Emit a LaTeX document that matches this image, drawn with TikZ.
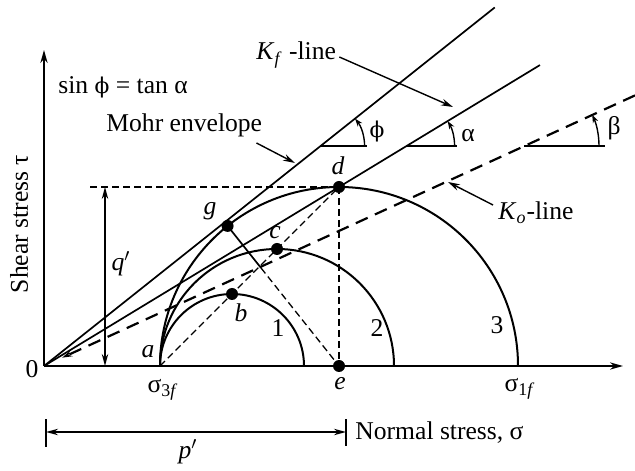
\documentclass[tikz,border=0pt]{standalone}
\usepackage{fontspec}
\setmainfont{Liberation Serif}
\newfontfamily\phifont{DejaVu Serif}[Scale=0.85]
\usetikzlibrary{arrows.meta,calc}
\begin{document}
\begin{tikzpicture}[x=0.5pt,y=0.5pt,
  font=\fontsize{12.8}{15}\selectfont,
  axis/.style={line width=1pt,-{Stealth[length=6.5pt,width=3.6pt]}},
  curve/.style={line width=1pt},
  envl/.style={line width=0.85pt},
  thindash/.style={line width=0.65pt,dash pattern=on 3.5pt off 2pt},
  kodash/.style={line width=1.1pt,dash pattern=on 6.5pt off 4pt},
  pointer/.style={line width=0.7pt,-{Stealth[length=6pt,width=3.4pt]}},
  dim/.style={line width=0.7pt,{Stealth[length=6pt,width=3.2pt]}-{Stealth[length=6pt,width=3.2pt]}},
  anglearrow/.style={line width=0.7pt,-{Stealth[length=4pt,width=2.8pt]}},
  dot/.style={circle,fill,inner sep=0pt,minimum size=6pt},
  lbl/.style={inner sep=1pt}]
\useasboundingbox (0,0) rectangle (635,470);

% key points
\coordinate (O) at (44,104);
\coordinate (X) at (623,104);
\coordinate (Y) at (44,420);
\coordinate (a) at (160,104);
\coordinate (b) at (232,176);
\coordinate (c) at (277,221);
\coordinate (d) at (339,283);
\coordinate (e) at (339,104);
\coordinate (g) at ($(e)+(128.5:179)$);
\coordinate (mohrEnd) at ($(O)+(38.5:576)$);
\coordinate (kfEnd) at ($(O)!1.681!(d)$);
\coordinate (koEnd) at ($(O)+(24.6:650)$);
\coordinate (koTip) at ($(O)+(24.6:20)$);

% axes
\draw[axis] (O) -- (X);
\draw[axis] (O) -- (Y);

% Mohr circles
\draw[curve] (a) arc[start angle=180,end angle=0,radius=72];
\draw[curve] (a) arc[start angle=180,end angle=0,radius=117];
\draw[curve] (a) arc[start angle=180,end angle=0,radius=179];

% lines from origin
\draw[envl] (O) -- (mohrEnd);
\draw[envl] (O) -- (kfEnd);
\draw[kodash,-{Stealth[length=5pt,width=3pt]}] (koEnd) -- (koTip);

% stress path and construction lines
\draw[thindash] (a) -- (d);
\draw[thindash] (d) -- (e);
\coordinate (gmid) at ($(g)!0.3!(e)$);
\draw[envl] (g) -- (gmid);
\draw[thindash] (gmid) -- (e);
\coordinate (hstart) at (90,283);
\draw[thindash] (hstart) -- (d);

% q' dimension
\coordinate (qtop) at (105,283);
\coordinate (qbot) at (105,104);
\draw[dim] (qtop) -- (qbot);
\node[lbl] (qlbl) at (121,206) {\textit{q}$'$};

% p' dimension
\coordinate (pl) at (46,38);
\coordinate (pr) at (346,38);
\coordinate (plt) at (46,51);
\coordinate (plb) at (46,23);
\coordinate (prt) at (346,51);
\coordinate (prb) at (346,24);
\draw[line width=0.7pt] (plt) -- (plb);
\draw[line width=0.7pt] (prt) -- (prb);
\draw[dim] (pl) -- (pr);
\node[lbl] (plbl) at (188,18) {\textit{p}$'$};
\node[lbl,anchor=west] (nlbl) at (353,37) {Normal stress, σ};

% dots
\node[dot] (bd) at (b) {};
\node[dot] (cd) at (c) {};
\node[dot] (dd) at (d) {};
\node[dot] (ed) at (e) {};
\node[dot] (gd) at (g) {};

% point labels
\node[lbl] (la) at (148,118) {\textit{a}};
\node[lbl] (lb) at (241,157) {\textit{b}};
\node[lbl] (lc) at (275,237) {\textit{c}};
\node[lbl] (ld) at (338,304) {\textit{d}};
\node[lbl] (le) at (340,86) {\textit{e}};
\node[lbl] (lg) at (210,259) {\textit{g}};
\node[lbl] (l1) at (278,142) {1};
\node[lbl] (l2) at (377,142) {2};
\node[lbl] (l3) at (497,145) {3};
\node[lbl] (lzero) at (32,101) {0};
\node[lbl] (ls3) at (163,80) {σ\textsubscript{3\textit{f}}};
\node[lbl] (ls1) at (520,81) {σ\textsubscript{1\textit{f}}};
\node[lbl,rotate=90] (lshear) at (19,246) {Shear stress τ};

% annotations
\node[lbl,anchor=west] (lsin) at (56,383) {sin {\phifont ϕ} = tan α};
\node[lbl,anchor=west] (lmohr) at (104,345) {Mohr envelope};
\coordinate (mohrTip) at (295,307);
\draw[pointer] (lmohr.south east) ++(-8,-4) -- (mohrTip);
\node[lbl,anchor=west] (lkf) at (254,415) {\textit{K}\textsubscript{\textit{f}} -line};
\coordinate (kfTip) at (453,363);
\draw[pointer] (lkf.east) ++(1,-2) -- (kfTip);
\node[lbl,anchor=west] (lko) at (496,257) {\textit{K}\textsubscript{\textit{o}}-line};
\coordinate (koPt) at (448,288);
\draw[pointer] (lko.west) ++(-3,8) -- (koPt);

% angle markers
\coordinate (P1) at ($(O)+(276.6,220)$);
\coordinate (P1r) at ($(P1)+(46,0)$);
\coordinate (P2) at ($(O)+(362.6,220)$);
\coordinate (P2r) at ($(P2)+(50,0)$);
\coordinate (P3) at ($(O)+(480,220)$);
\coordinate (P3r) at ($(P3)+(81,0)$);
\draw[line width=0.8pt] (P1) -- (P1r);
\draw[line width=0.8pt] (P2) -- (P2r);
\draw[line width=0.8pt] (P3) -- (P3r);
\draw[anglearrow] ($(P1)+(44,0)$) arc[start angle=0,end angle=38.5,radius=44];
\draw[anglearrow] ($(P2)+(48,0)$) arc[start angle=0,end angle=31.25,radius=48];
\draw[anglearrow] ($(P3)+(75,0)$) arc[start angle=0,end angle=24.6,radius=75];
\node[lbl] (lphi) at (377,338) {\phifont ϕ};
\node[lbl] (lalpha) at (468,334) {α};
\node[lbl] (lbeta) at (614,342) {β};
\end{tikzpicture}
\end{document}
